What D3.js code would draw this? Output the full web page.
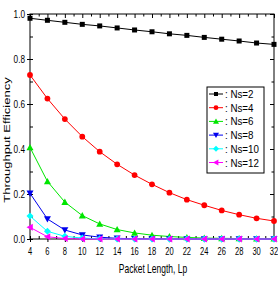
<!DOCTYPE html>
<html>
<head>
<meta charset="utf-8">
<script src="https://cdn.jsdelivr.net/npm/d3@7"></script>
<style>
  body { margin: 0; background: #fff; }
  text { font-family: "Liberation Sans", Arial, sans-serif; }
</style>
</head>
<body>
<div id="chart"></div>
<script>
const packetLength = [4, 6, 8, 10, 12, 14, 16, 18, 20, 22, 24, 26, 28, 30, 32];

const ns2 = [0.981, 0.972, 0.963, 0.954, 0.947, 0.938, 0.929, 0.921, 0.912, 0.905, 0.896, 0.888, 0.880, 0.871, 0.865];
const ns4 = [0.729, 0.624, 0.533, 0.455, 0.388, 0.332, 0.284, 0.243, 0.206, 0.175, 0.150, 0.127, 0.108, 0.092, 0.080];
const ns6 = [0.407, 0.256, 0.164, 0.104, 0.067, 0.042, 0.027, 0.017, 0.011, 0.007, 0.004, 0.003, 0.002, 0.001, 0.001];
const ns8 = [0.203, 0.089, 0.040, 0.018, 0.008, 0.003, 0.001, 0.001, 0, 0, 0, 0, 0, 0, 0];
const ns10 = [0.102, 0.034, 0.012, 0.004, 0.001, 0, 0, 0, 0, 0, 0, 0, 0, 0, 0];
const ns12 = [0.052, 0.010, 0.002, 0, 0, 0, 0, 0, 0, 0, 0, 0, 0, 0, 0];

const seriesNames = [': Ns=2', ': Ns=4', ': Ns=6', ': Ns=8', ': Ns=10', ': Ns=12'];
const seriesValues = [ns2, ns4, ns6, ns8, ns10, ns12];
const colors = ['#000000', '#ff0000', '#00e600', '#0000ee', '#00ffff', '#ff00ff'];
const shapes = ['square', 'circle', 'triUp', 'triDown', 'diamond', 'triLeft'];

const yTicks = [0.0, 0.2, 0.4, 0.6, 0.8, 1.0];

const width = 278,
height = 291,
margin = { top: 14, right: 4, bottom: 52, left: 30 };

// the original picture is squeezed sideways, so text is too
const squeeze = 0.72;

const svg = d3.select('#chart').
append('svg').
attr('width', width).
attr('height', height);

const x = d3.scaleLinear().
domain([4, 32]).
range([margin.left, width - margin.right]);

const y = d3.scaleLinear().
domain([0, 1]).
range([height - margin.bottom, margin.top]);

const bottomY = height - margin.bottom;

// frame
svg.append('rect').
attr('x', margin.left).
attr('y', margin.top).
attr('width', width - margin.left - margin.right).
attr('height', bottomY - margin.top).
attr('fill', 'none').
attr('stroke', '#000').
attr('stroke-width', 1);

const xMinor = d3.range(5, 32, 2);
const yMinor = [0.1, 0.3, 0.5, 0.7, 0.9];

const addAxis = (axis, pos, size) => {
  const g = svg.append('g').
  attr('transform', pos).
  call(axis.tickSize(size).tickFormat('').tickSizeOuter(0));
  g.select('.domain').remove();
  g.selectAll('line').attr('stroke', '#000');
  return g;
};

// bottom / left: major ticks cross the axis, minor point inward
addAxis(d3.axisTop(x).tickValues(packetLength), `translate(0,${bottomY + 3})`, 6);
addAxis(d3.axisTop(x).tickValues(xMinor), `translate(0,${bottomY})`, 3);
addAxis(d3.axisRight(y).tickValues(yTicks), `translate(${margin.left - 3},0)`, 6);
addAxis(d3.axisRight(y).tickValues(yMinor), `translate(${margin.left},0)`, 3);
// top / right: inward
addAxis(d3.axisBottom(x).tickValues(packetLength), `translate(0,${margin.top})`, 4);
addAxis(d3.axisBottom(x).tickValues(xMinor), `translate(0,${margin.top})`, 2.5);
addAxis(d3.axisLeft(y).tickValues(yTicks), `translate(${width - margin.right},0)`, 4);
addAxis(d3.axisLeft(y).tickValues(yMinor), `translate(${width - margin.right},0)`, 2.5);

// tick labels
svg.append('g').
selectAll('text').
data(packetLength).
enter().
append('text').
attr('transform', d => `translate(${x(d)},${bottomY + 16}) scale(${squeeze},1)`).
attr('text-anchor', 'middle').
style('font-size', '10.5px').
text(d => d);

svg.append('g').
selectAll('text').
data(yTicks).
enter().
append('text').
attr('transform', d => `translate(${margin.left - 5},${y(d) + 4}) scale(${squeeze + 0.06},1)`).
attr('text-anchor', 'end').
style('font-size', '10.5px').
text(d => d.toFixed(1));

// axis titles
svg.append('text').
attr('transform', `translate(${(margin.left + width - margin.right) / 2 + 1},${bottomY + 34}) scale(0.68,1)`).
attr('text-anchor', 'middle').
style('font-size', '12.5px').
text('Packet Length, Lp');

svg.append('text').
attr('transform', `translate(10,140) scale(${squeeze},1) rotate(-90)`).
attr('text-anchor', 'middle').
style('font-size', '13px').
text('Throughput Efficiency');

// markers
const drawMarker = (sel, shape, color, s) => {
  if (shape === 'square') {
    sel.append('rect').attr('x', -s).attr('y', -s).attr('width', 2 * s).attr('height', 2 * s).attr('fill', color);
  } else if (shape === 'circle') {
    sel.append('circle').attr('r', s + 0.4).attr('fill', color);
  } else {
    let pts;
    const t = s + 1;
    if (shape === 'triUp') pts = [[0, -t], [t, t * 0.8], [-t, t * 0.8]];
    if (shape === 'triDown') pts = [[0, t], [t, -t * 0.8], [-t, -t * 0.8]];
    if (shape === 'triLeft') pts = [[-t, 0], [t * 0.8, -t], [t * 0.8, t]];
    if (shape === 'diamond') pts = [[0, -t], [t, 0], [0, t], [-t, 0]];
    sel.append('polygon').attr('points', pts.map(p => p.join(',')).join(' ')).attr('fill', color);
  }
};

const line = d3.line().
x((d, i) => x(packetLength[i])).
y(d => y(d));

seriesValues.forEach((vals, k) => {
  svg.append('path').
  datum(vals).
  attr('d', line).
  attr('fill', 'none').
  attr('stroke', colors[k]).
  attr('stroke-width', 1);
});

seriesValues.forEach((vals, k) => {
  svg.append('g').
  selectAll('g').
  data(vals).
  enter().
  append('g').
  attr('transform', (d, i) => `translate(${x(packetLength[i])},${y(d)})`).
  each(function () {
    drawMarker(d3.select(this), shapes[k], colors[k], 2.5);
  });
});

// legend
const legend = svg.append('g').
attr('transform', 'translate(207,87)');

legend.append('rect').
attr('width', 57).
attr('height', 86).
attr('fill', '#fff').
attr('stroke', '#000').
attr('stroke-width', 1);

seriesNames.forEach((name, k) => {
  const ly = 7 + k * 13.7;
  const row = legend.append('g').attr('transform', `translate(0,${ly})`);
  row.append('line').
  attr('x1', 2).
  attr('x2', 16).
  attr('stroke', colors[k]).
  attr('stroke-width', 1);
  const m = row.append('g').attr('transform', 'translate(9,0)');
  drawMarker(m, shapes[k], colors[k], 2);
  row.append('text').
  attr('transform', `translate(18,4) scale(0.85,1)`).
  style('font-size', '11.5px').
  text(name);
});
</script>
</body>
</html>
